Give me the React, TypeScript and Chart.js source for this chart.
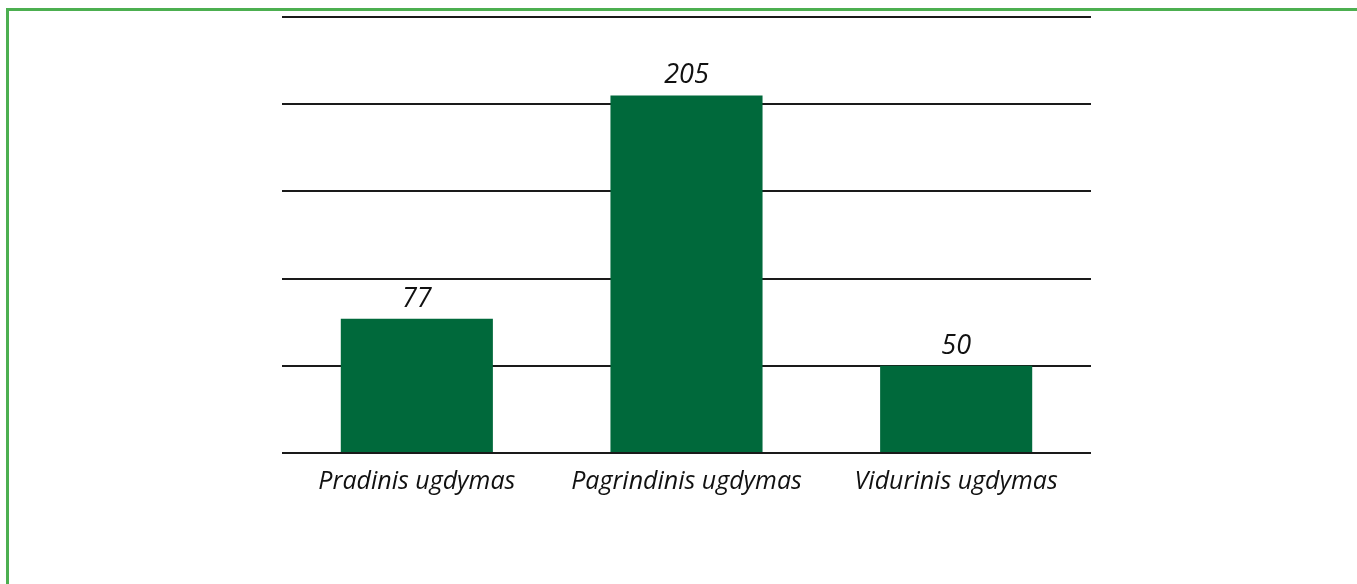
import React, { useEffect, useRef } from "react";
import { Chart, registerables } from "chart.js";

Chart.register(...registerables);

const categories = ["Pradinis ugdymas", "Pagrindinis ugdymas", "Vidurinis ugdymas"];
const values = [77, 205, 50];
const yTicks = [0, 50, 100, 150, 200, 250];

const FONT_FAMILY = "'Open Sans', sans-serif";

const valueLabels = {
  id: "valueLabels",
  afterDatasetsDraw(chart: any) {
    const ctx = chart.ctx;
    const meta = chart.getDatasetMeta(0);
    ctx.save();
    ctx.font = `italic 27px ${FONT_FAMILY}`;
    ctx.fillStyle = "#111111";
    ctx.textAlign = "center";
    ctx.textBaseline = "alphabetic";
    meta.data.forEach((bar: any, i: number) => {
      ctx.fillText(String(values[i]), bar.x, bar.y - 12);
    });
    ctx.restore();
  },
};

export default function App() {
  const ref = useRef<HTMLCanvasElement | null>(null);
  useEffect(() => {
    if (!ref.current) return;
    const chart = new Chart(ref.current, {
      type: "bar",
      data: {
        labels: categories,
        datasets: [
          {
            data: values,
            backgroundColor: "#00693b",
            borderWidth: 0,
            categoryPercentage: 1,
            barPercentage: 0.564,
          },
        ],
      },
      options: {
        responsive: false,
        animation: false,
        layout: { padding: { left: 282, right: 266, top: 17, bottom: 0 } },
        plugins: { legend: { display: false }, tooltip: { enabled: false } },
        scales: {
          x: {
            grid: { display: false },
            border: { display: false },
            ticks: {
              color: "#111111",
              font: { family: FONT_FAMILY, size: 25, style: "italic" },
              padding: 6,
              maxRotation: 0,
              autoSkip: false,
            },
            afterFit: (scale: any) => {
              scale.height = 131;
            },
          },
          y: {
            min: 0,
            max: 250,
            z: 1,
            afterBuildTicks: (scale: any) => {
              scale.ticks = yTicks.map((v) => ({ value: v }));
            },
            ticks: { display: false },
            grid: { color: "#1a1a1a", lineWidth: 2, drawTicks: false },
            border: { display: false },
            afterFit: (scale: any) => {
              scale.width = 0;
            },
          },
        },
      },
      plugins: [valueLabels],
    });
    return () => chart.destroy();
  }, []);

  return (
    <div
      style={{
        position: "absolute",
        top: 0,
        left: 0,
        width: 1357,
        height: 584,
        overflow: "hidden",
        background: "#fff",
      }}
    >
      <div
        style={{
          position: "absolute",
          left: 6,
          top: 8,
          width: 1500,
          height: 800,
          border: "3px solid #4caf50",
          boxSizing: "border-box",
        }}
      />
      <canvas
        ref={ref}
        width={1357}
        height={584}
        style={{ position: "absolute", top: 0, left: 0 }}
      />
    </div>
  );
}
